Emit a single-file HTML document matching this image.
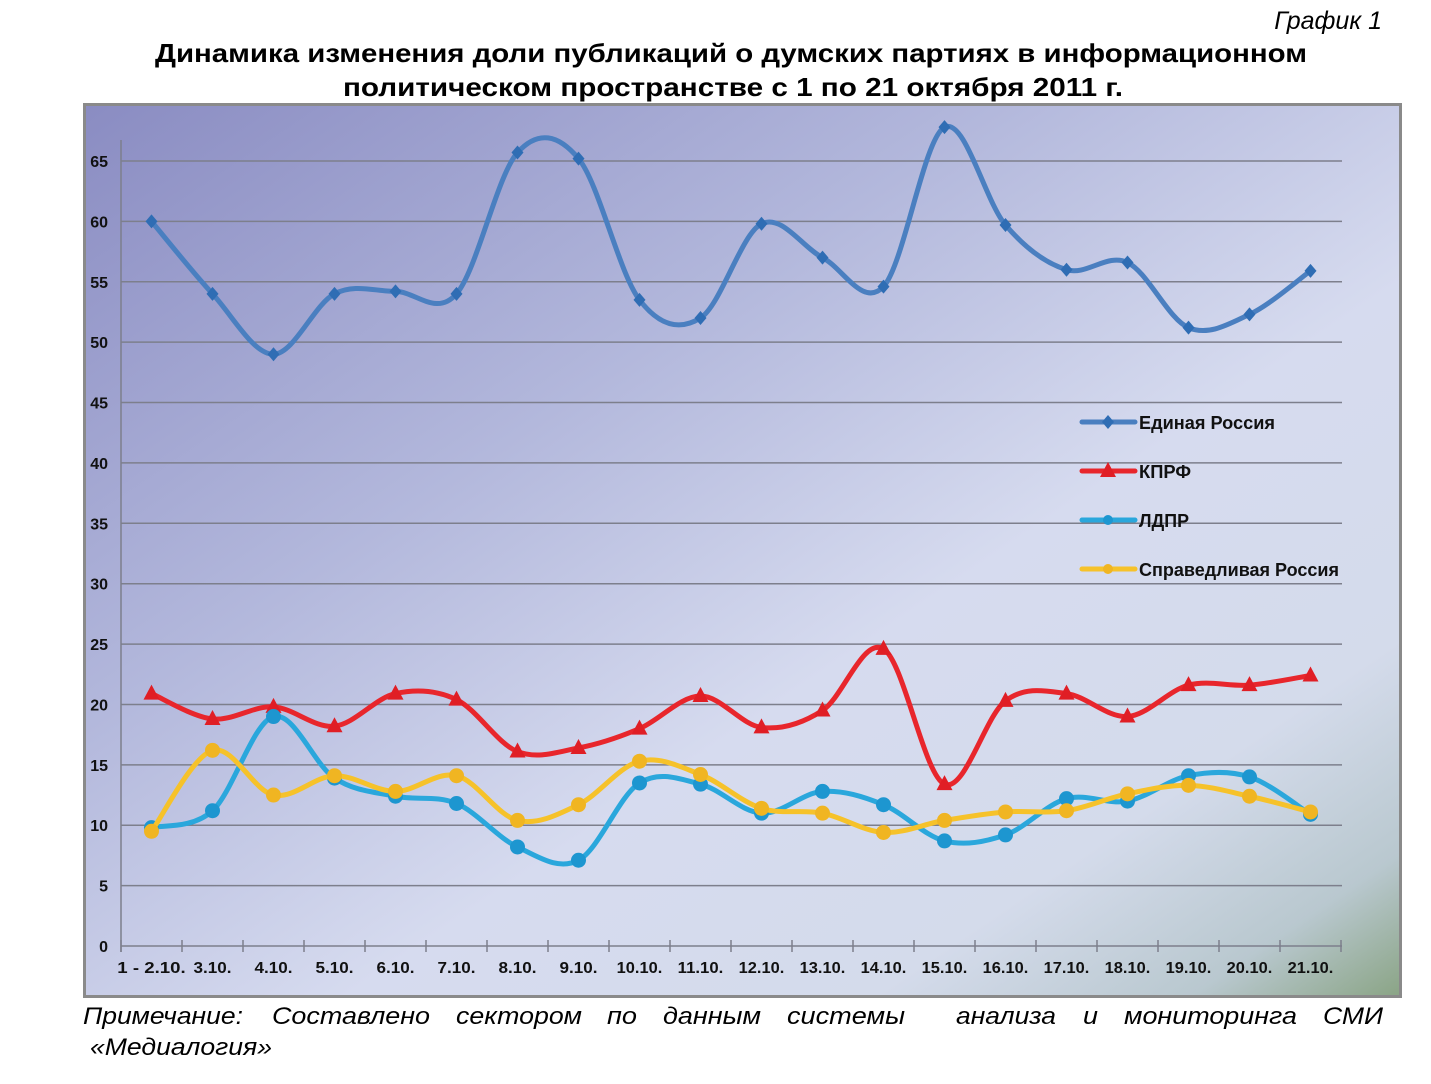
<!DOCTYPE html>
<html><head><meta charset="utf-8"><style>
html,body{margin:0;padding:0;background:#fff;}
svg{display:block;}
text{font-family:"Liberation Sans",sans-serif;}
</style></head><body>
<svg id="s" width="1431" height="1084" viewBox="0 0 1431 1084" xmlns="http://www.w3.org/2000/svg">
<defs>
<linearGradient id="bg" x1="0" y1="0" x2="1" y2="1">
<stop offset="0" stop-color="#8a8cc2"/>
<stop offset="0.35" stop-color="#b3b8dc"/>
<stop offset="0.6" stop-color="#d6dbef"/>
<stop offset="0.8" stop-color="#d4dbeb"/>
<stop offset="0.92" stop-color="#b9c8cf"/>
<stop offset="1" stop-color="#8aa485"/>
</linearGradient>
</defs>
<text x="1382" y="29" font-size="25" font-style="italic" text-anchor="end">График 1</text>
<text x="731" y="62" font-size="26" font-weight="bold" text-anchor="middle" textLength="1152" lengthAdjust="spacingAndGlyphs">Динамика изменения доли публикаций о думских партиях в информационном</text>
<text x="733" y="96" font-size="26" font-weight="bold" text-anchor="middle" textLength="780" lengthAdjust="spacingAndGlyphs">политическом пространстве с 1 по 21 октября 2011 г.</text>
<rect x="84.5" y="104.5" width="1316" height="892" fill="url(#bg)" stroke="#8a8a8a" stroke-width="3"/>
<g id="grid"></g>
<g id="lines"></g>
<g id="legend"></g>
<g font-size="24" font-style="italic">
<text x="83" y="1024" textLength="160" lengthAdjust="spacingAndGlyphs">Примечание:</text>
<text x="272" y="1024" textLength="158" lengthAdjust="spacingAndGlyphs">Составлено</text>
<text x="456" y="1024" textLength="126" lengthAdjust="spacingAndGlyphs">сектором</text>
<text x="607" y="1024" textLength="30" lengthAdjust="spacingAndGlyphs">по</text>
<text x="663" y="1024" textLength="98" lengthAdjust="spacingAndGlyphs">данным</text>
<text x="787" y="1024" textLength="118" lengthAdjust="spacingAndGlyphs">системы</text>
<text x="956" y="1024" textLength="100" lengthAdjust="spacingAndGlyphs">анализа</text>
<text x="1083" y="1024" textLength="15" lengthAdjust="spacingAndGlyphs">и</text>
<text x="1124" y="1024" textLength="173" lengthAdjust="spacingAndGlyphs">мониторинга</text>
<text x="1323" y="1024" textLength="60" lengthAdjust="spacingAndGlyphs">СМИ</text>
<text x="90" y="1055" textLength="182" lengthAdjust="spacingAndGlyphs">«Медиалогия»</text>
</g>
</svg>
<script>
const NS="http://www.w3.org/2000/svg";
function el(t,a,p,txt){const e=document.createElementNS(NS,t);for(const k in a)e.setAttribute(k,a[k]);if(txt!=null)e.textContent=txt;p.appendChild(e);return e;}
const g=document.getElementById('grid'),L=document.getElementById('lines'),G=document.getElementById('legend');
const y0=946,k=(946-161)/65,x0=121,dx=61;
const Y=v=>y0-v*k, X=i=>x0+dx*(i+0.5);
for(let v=5;v<=65;v+=5){el('line',{x1:121,x2:1342,y1:Y(v),y2:Y(v),stroke:'#7d7f8c','stroke-width':1.5},g);}
for(let v=0;v<=65;v+=5){el('text',{x:108,y:Y(v)+6,'font-size':16,'font-weight':'bold','text-anchor':'end',fill:'#111'},g,String(v));}
el('line',{x1:121,x2:121,y1:140,y2:952,stroke:'#7d7f8c','stroke-width':1.5},g);
el('line',{x1:121,x2:1342,y1:946,y2:946,stroke:'#7d7f8c','stroke-width':1.5},g);
for(let i=0;i<=20;i++)el('line',{x1:x0+dx*i,x2:x0+dx*i,y1:940,y2:952,stroke:'#7d7f8c','stroke-width':1.5},g);
const labs=['1 - 2.10.','3.10.','4.10.','5.10.','6.10.','7.10.','8.10.','9.10.','10.10.','11.10.','12.10.','13.10.','14.10.','15.10.','16.10.','17.10.','18.10.','19.10.','20.10.','21.10.'];
labs.forEach((t,i)=>el('text',{x:X(i),y:973,'font-size':16,'font-weight':'bold','text-anchor':'middle',fill:'#111',textLength:(t.length*7.6),lengthAdjust:'spacingAndGlyphs'},g,t));
const S=[
{c:'#4a7fc0',m:'d',d:[60,54,49,54,54.2,54,65.7,65.2,53.5,52,59.8,57,54.6,67.8,59.7,56,56.6,51.2,52.3,55.9],mc:'#2f6db4'},
{c:'#e8262c',m:'t',d:[20.9,18.8,19.8,18.2,20.9,20.4,16.1,16.4,18,20.7,18.1,19.5,24.6,13.4,20.3,20.9,19,21.6,21.6,22.4],mc:'#e01e25'},
{c:'#2aa7dc',m:'c',d:[9.8,11.2,19,13.9,12.4,11.8,8.2,7.1,13.5,13.4,11,12.8,11.7,8.7,9.2,12.2,12,14.1,14,10.9],mc:'#1d96d0'},
{c:'#f6c22a',m:'c',d:[9.5,16.2,12.5,14.1,12.8,14.1,10.4,11.7,15.3,14.2,11.4,11,9.4,10.4,11.1,11.2,12.6,13.3,12.4,11.1],mc:'#f0b522'}
];
function path(pts){let d='M'+pts[0][0]+','+pts[0][1];const t=1/6;
for(let i=0;i<pts.length-1;i++){const p0=pts[Math.max(0,i-1)],p1=pts[i],p2=pts[i+1],p3=pts[Math.min(pts.length-1,i+2)];
d+=' C'+(p1[0]+(p2[0]-p0[0])*t)+','+(p1[1]+(p2[1]-p0[1])*t)+' '+(p2[0]-(p3[0]-p1[0])*t)+','+(p2[1]-(p3[1]-p1[1])*t)+' '+p2[0]+','+p2[1];}
return d;}
function marker(m,x,y,c,p){
 if(m==='d')el('polygon',{points:`${x},${y-7} ${x+6},${y} ${x},${y+7} ${x-6},${y}`,fill:c},p);
 else if(m==='t')el('polygon',{points:`${x},${y-9} ${x+8},${y+6} ${x-8},${y+6}`,fill:c},p);
 else el('circle',{cx:x,cy:y,r:7.5,fill:c},p);
}
S.forEach(s=>{const pts=s.d.map((v,i)=>[X(i),Y(v)]);
el('path',{d:path(pts),fill:'none',stroke:s.c,'stroke-width':5,'stroke-linecap':'round'},L);
pts.forEach(p=>marker(s.m,p[0],p[1],s.mc,L));});
const names=['Единая Россия','КПРФ','ЛДПР','Справедливая Россия'];
const widths=[136,52,50,200];
names.forEach((n,i)=>{const y=422+i*49;
el('line',{x1:1082,x2:1135,y1:y,y2:y,stroke:S[i].c,'stroke-width':5,'stroke-linecap':'round'},G);
if(S[i].m==='d')marker('d',1108,y,S[i].mc,G);else if(S[i].m==='t')marker('t',1108,y,S[i].mc,G);else el('circle',{cx:1108,cy:y,r:5,fill:S[i].mc},G);
el('text',{x:1139,y:y+7,'font-size':18,'font-weight':'bold',fill:'#111',textLength:widths[i],lengthAdjust:'spacingAndGlyphs'},G,n);});
</script>
</body></html>
